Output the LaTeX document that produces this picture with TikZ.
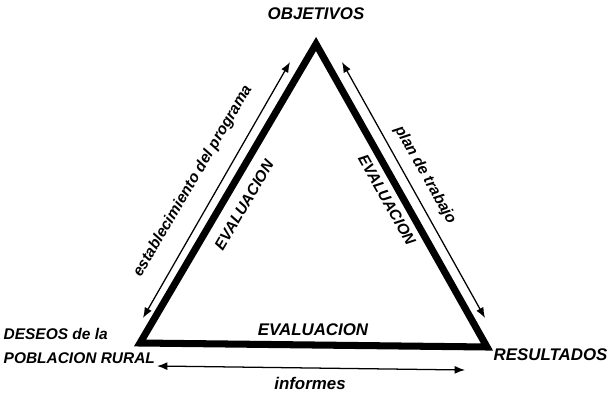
\documentclass[tikz,border=0pt]{standalone}
\usepackage{fontspec}
\setmainfont{Liberation Sans}
\usetikzlibrary{arrows.meta,calc}
\tikzset{
  lado/.style={line width=5pt, line join=miter},
  flecha/.style={{Latex[length=2.6mm,width=2mm]}-{Latex[length=2.6mm,width=2mm]}, line width=0.9pt},
  rotulo/.style={font=\bfseries\itshape\large, inner sep=1pt},
  ladotxt/.style={font=\bfseries\itshape\fontsize{11}{13}\selectfont, inner sep=1pt},
}
\begin{document}
\begin{tikzpicture}[x=0.025cm,y=0.025cm]
\useasboundingbox (0,0) rectangle (609,395);
\coordinate (obj) at (316,351);
\coordinate (des) at (140,52);
\coordinate (res) at (487,48);
\draw[lado] (obj) -- (res) -- (des) -- cycle;

\node[rotulo, font=\bfseries\itshape\fontsize{11}{13}\selectfont, align=left, anchor=west] (deseos) at (2,49) {DESEOS de la\\[4pt]POBLACION RURAL};
\node[rotulo] (objetivos) at (316,381) {OBJETIVOS};
\node[rotulo, anchor=west] (resultados) at (492,40) {RESULTADOS};

\coordinate (iz1) at (143,77);
\coordinate (iz2) at (290,333);
\coordinate (de1) at (342,333);
\coordinate (de2) at (485,77);
\coordinate (ab1) at (157,29);
\coordinate (ab2) at (465,25);
\draw[flecha] (iz1) -- (iz2);
\draw[flecha] (de1) -- (de2);
\draw[flecha] (ab1) -- (ab2);

\node[ladotxt, rotate=59.5] (establ) at (193,214) {establecimiento del programa};
\node[ladotxt, rotate=59.5] (evaliz) at (244,190) {EVALUACION};
\node[ladotxt, rotate=-60.6] (plan) at (425,220) {plan de trabajo};
\node[ladotxt, rotate=-60.6] (evalde) at (387,195) {EVALUACION};
\node[rotulo] (evalab) at (313,65) {EVALUACION};
\node[rotulo] (informes) at (310,12) {informes};
\end{tikzpicture}
\end{document}
